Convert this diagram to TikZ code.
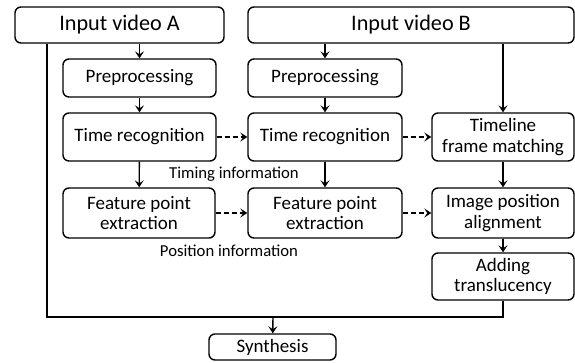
\documentclass[tikz,border=0pt]{standalone}
\usepackage{fontspec}
\setmainfont{Carlito}
\usetikzlibrary{arrows.meta}
\begin{document}
\begin{tikzpicture}[x=1pt,y=-1pt,
  box/.style={draw,line width=1.4pt,rounded corners=6pt,align=center,inner sep=0pt,font=\fontsize{19}{20.5}\selectfont},
  bigbox/.style={box,font=\fontsize{22.2}{24}\selectfont},
  lbl/.style={font=\fontsize{16.7}{18}\selectfont,inner sep=0pt},
  conn/.style={line width=1.4pt,-{Stealth[length=7pt,width=9pt,inset=3pt]}},
  plain/.style={line width=1.4pt},
  dconn/.style={conn,dashed,dash pattern=on 5pt off 3pt}]
\useasboundingbox (0,0) rectangle (575,362);
\node[bigbox,minimum width=209pt,minimum height=36pt] (inA) at (119.5,25) {Input video A};
\node[bigbox,minimum width=326pt,minimum height=36pt] (inB) at (411,25) {Input video B};
\node[box,minimum width=153pt,minimum height=38pt] (preA) at (139.5,78) {Preprocessing};
\node[box,minimum width=154pt,minimum height=38pt] (preB) at (325,78) {Preprocessing};
\node[box,minimum width=153pt,minimum height=48pt] (timeA) at (139.5,137) {Time recognition};
\node[box,minimum width=154pt,minimum height=48pt] (timeB) at (325,137) {Time recognition};
\node[box,minimum width=142pt,minimum height=48pt] (tl) at (503,137) {Timeline\\frame matching};
\node[box,minimum width=152pt,minimum height=50pt] (featA) at (139,213) {Feature point\\extraction};
\node[box,minimum width=154pt,minimum height=50pt] (featB) at (325,213) {Feature point\\extraction};
\node[box,minimum width=142pt,minimum height=50pt] (ipa) at (503,213) {Image position\\alignment};
\node[box,minimum width=142pt,minimum height=47pt] (add) at (503,276.5) {Adding\\translucency};
\node[box,minimum width=127pt,minimum height=26pt] (syn) at (272.5,347) {Synthesis};
\node[lbl] (ti) at (234,174) {Timing information};
\node[lbl] (pi) at (229,251) {Position information};
\coordinate (cl) at (47,317);
\coordinate (cj) at (273,317);
\draw[conn] (inA.south -| preA) -- (preA);
\draw[conn] (preA) -- (timeA);
\draw[conn] (timeA) -- (featA);
\draw[conn] (inB.south -| preB) -- (preB);
\draw[conn] (preB) -- (timeB);
\draw[conn] (timeB) -- (featB);
\draw[conn] (inB.south -| tl) -- (tl);
\draw[conn] (tl) -- (ipa);
\draw[conn] (ipa) -- (add);
\draw[dconn] (timeA) -- (timeB);
\draw[dconn] (timeB) -- (tl);
\draw[dconn] (featA) -- (featB);
\draw[dconn] (featB) -- (ipa);
\draw[plain] (inA.south -| cl) -- (cl) -- (cl -| add) -- (add.south);
\draw[conn] (cj) -- (syn);
\end{tikzpicture}
\end{document}
